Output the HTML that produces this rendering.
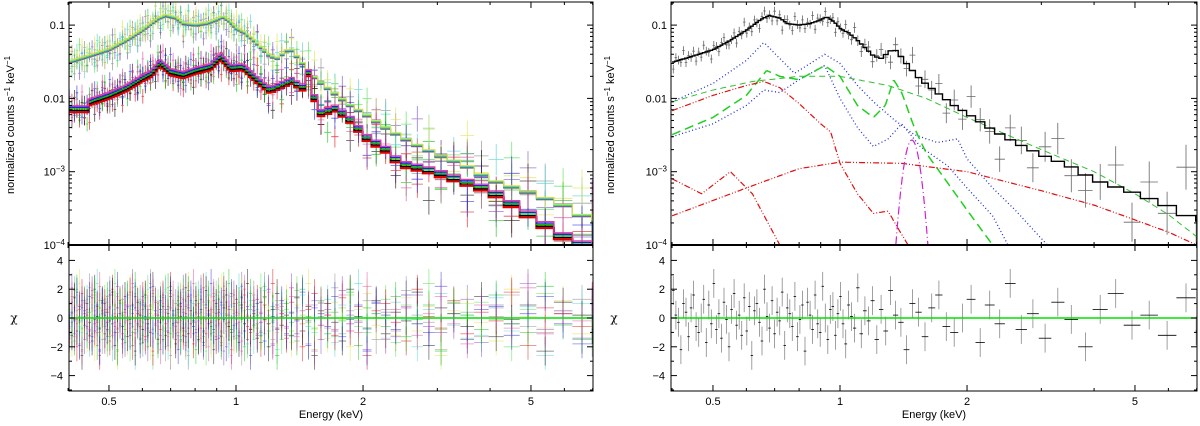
<!DOCTYPE html>
<html><head><meta charset="utf-8">
<style>
html,body{margin:0;padding:0;background:#fff;}
svg{display:block;font-family:"Liberation Sans",sans-serif;}
</style></head>
<body>
<svg id="fig" width="1200" height="426" viewBox="0 0 1200 426" xmlns="http://www.w3.org/2000/svg">
<defs>
<clipPath id="clipL"><rect x="69" y="2" width="524" height="389"/></clipPath>
<clipPath id="clipR"><rect x="671" y="2" width="526" height="389"/></clipPath>
<clipPath id="clipLT"><rect x="69" y="2" width="524" height="243"/></clipPath>
<clipPath id="clipRT"><rect x="671" y="2" width="526" height="243"/></clipPath>
</defs>
</svg>
<script>
// ---------- data ----------
const E_tot=[0.4,0.45,0.5,0.55,0.6,0.65,0.68,0.72,0.75,0.8,0.85,0.9,0.93,0.97,1.0,1.05,1.1,1.2,1.25,1.3,1.34,1.38,1.45,1.55,1.7,1.85,2.0,2.3,2.6,3.0,3.5,4.0,5.0,6.0,7.0];
const V_tot=[0.031,0.038,0.046,0.062,0.085,0.12,0.135,0.125,0.105,0.1,0.105,0.118,0.13,0.11,0.09,0.078,0.062,0.038,0.035,0.042,0.048,0.04,0.028,0.018,0.012,0.0082,0.0063,0.0037,0.0025,0.0017,0.0012,7.7e-4,5.1e-4,3.4e-4,2.1e-4];
const E_low=[0.4,0.445,0.45,0.5,0.55,0.6,0.63,0.66,0.7,0.75,0.8,0.87,0.92,0.97,1.04,1.1,1.2,1.3,1.37,1.43,1.48,1.52,1.58,1.72,1.87,2.03,2.27,2.45,2.88,3.4,4.0,5.0,6.0,7.0];
const V_low=[0.0072,0.0072,0.009,0.011,0.014,0.019,0.022,0.031,0.023,0.021,0.024,0.027,0.038,0.026,0.027,0.02,0.013,0.016,0.018,0.013,0.024,0.012,0.0063,0.0074,0.0051,0.003,0.002,0.0013,0.00105,7.7e-4,5.6e-4,2.5e-4,1.3e-4,9e-5];
const E_b1=[0.4,0.5,0.6,0.66,0.72,0.78,0.85,0.92,1.0,1.1,1.2,1.35,1.5,1.7,1.9,2.0,2.3,2.6,3.1];
const V_b1=[0.009,0.016,0.033,0.058,0.035,0.022,0.03,0.04,0.03,0.015,0.009,0.005,0.0032,0.0025,0.0028,0.0015,6e-4,3e-4,1e-4];
const E_b2=[0.4,0.5,0.6,0.66,0.72,0.8,0.92,1.0,1.1,1.2,1.3,1.4,1.55,1.8,2.0,2.3,2.5];
const V_b2=[0.003,0.0045,0.008,0.013,0.012,0.018,0.028,0.01,0.004,0.0022,0.0028,0.0045,0.0022,0.0012,6e-4,2.5e-4,1e-4];
const E_g1=[0.4,0.5,0.6,0.67,0.72,0.8,0.92,1.0,1.1,1.2,1.28,1.34,1.4,1.5,1.6,1.8,2.0,2.3];
const V_g1=[0.0032,0.0055,0.011,0.024,0.02,0.018,0.028,0.02,0.008,0.0055,0.008,0.018,0.012,0.004,0.0018,7e-4,3e-4,1e-4];
const E_g2=[0.4,0.5,0.62,0.8,1.0,1.3,1.6,2.0,3.0,4.0,5.0,6.0,7.0];
const V_g2=[0.009,0.013,0.017,0.02,0.02,0.015,0.01,0.0055,0.002,1e-3,5e-4,2.6e-4,1.3e-4];
const E_ra=[0.4,0.5,0.6,0.66,0.72,0.8,0.9,0.95,1.0,1.1,1.2,1.3,1.38,1.45];
const V_ra=[0.0068,0.011,0.015,0.017,0.014,0.0085,0.0045,0.0035,0.0013,5e-4,2.7e-4,2.9e-4,1.6e-4,1e-4];
const E_rb=[0.4,0.6,0.8,1.0,1.4,2.0,3.0,4.0,5.0,6.0,7.0];
const V_rb=[2.5e-4,6e-4,1.1e-3,1.35e-3,1.3e-3,1e-3,5.5e-4,3.5e-4,2.2e-4,1.5e-4,1e-4];
const E_rc=[0.4,0.47,0.55,0.62,0.72];
const V_rc=[8e-4,5e-4,1e-3,5e-4,1e-4];
const magCenter=[1.48], magPeak=[2.7e-3], magSigmaDex=[0.0148];
const R=[0.8,-1.2,0.3,1.5,-0.4,-1.8,0.9,0.1,-0.7,2.1,-1.1,0.5,-0.2,1.2,-1.5,0.6,-0.9,1.9,0.2,-0.3,-2.2,1.0,0.4,-1.3,0.7,1.6,-0.6,-1.0,0.0,1.3,-1.7,0.9,-0.4,2.4,-0.8,0.3,-1.4,1.1,-0.1,-2.0,0.6,1.7,-0.5,0.2,-1.2,1.4,-0.9,0.8,-2.6,0.5,1.0,-0.3,-1.6,2.0,0.1,-0.7,1.2,-1.1,0.4,-0.2,1.8,-1.9,0.7,0.3,-0.6,1.5,-1.3,-0.1,0.9,-2.3,1.1,0.2,-0.8,1.6,-0.4,-1.0,2.2,0.0,-1.5,0.6];
const xTickVals=[0.5,1,2,5], xTickLabels=["0.5","1","2","5"];
const xMinor=[0.4,0.6,0.7,0.8,0.9,3,4,6,7];
const yTickVals=[0.1,0.01,0.001,0.0001];
const chiTicks=[4,2,0,-2,-4];
const upColors=["#808080","#7040c0","#40e040","#40d0d0","#e0e040"];
const lowColors=["#e00000","#000000","#00c000","#2020e0","#e040a0"];

// ---------- helpers ----------
const NS="http://www.w3.org/2000/svg", svg=document.getElementById('fig');
function el(tag,attrs,parent){const e=document.createElementNS(NS,tag);for(const k in attrs)e.setAttribute(k,attrs[k]);(parent||svg).appendChild(e);return e;}
const lg=Math.log10;
function interp(E,V,e){if(e<=E[0])return V[0];if(e>=E[E.length-1])return V[V.length-1];
 for(let i=1;i<E.length;i++){if(e<=E[i]){const t=(lg(e)-lg(E[i-1]))/(lg(E[i])-lg(E[i-1]));return Math.pow(10,lg(V[i-1])+t*(lg(V[i])-lg(V[i-1])));}}}
const Ymain=v=>245-73.3*(lg(v)+4);
const Ychi=c=>318-14.4*c;
const bins=[];{let e=0.4;while(e<7){const s=0.006+0.05*Math.max(0,lg(e));const e2=e*Math.pow(10,s);bins.push([e,Math.min(e2,7)]);e=e2;}}
function relErr(e,base,grow){return base+grow*Math.max(0,lg(e));}

function panel(cx,tag){
 const X=e=>cx+422*lg(e);
 const g=el('g',{});  
 return {X,g};
}
function axes(p,x0,x1,tag,labelX){
 const {X,g}=p;
 const ax=el('g',{stroke:'#000','stroke-width':1,fill:'none'},g);
  
 el('rect',{x:x0,y:2,width:x1-x0,height:389},ax);
 el('line',{x1:x0,y1:245,x2:x1,y2:245,'stroke-width':2},ax);
 for(const [yy,dir] of [[2,1],[245,-1],[245,1],[391,-1]]){
  xTickVals.forEach(v=>el('line',{x1:X(v),x2:X(v),y1:yy,y2:yy+dir*6},ax));
  xMinor.forEach(v=>el('line',{x1:X(v),x2:X(v),y1:yy,y2:yy+dir*3},ax));
 }
 for(let d=-4;d<0;d++){for(let m=1;m<10;m++){const v=m*Math.pow(10,d);const y=Ymain(v);if(y<2)continue;const L=m==1?6:3;
  el('line',{x1:x0,x2:x0+L,y1:y,y2:y},ax);el('line',{x1:x1,x2:x1-L,y1:y,y2:y},ax);}}
 for(let c=-5;c<=4;c++){const y=Ychi(c);const L=c%2==0?6:3;el('line',{x1:x0,x2:x0+L,y1:y,y2:y},ax);el('line',{x1:x1,x2:x1-L,y1:y,y2:y},ax);}
 const tl=el('g',{'font-size':11,fill:'#000'},g);
  
 xTickVals.forEach((v,i)=>{const t=el('text',{x:X(v),y:405,'text-anchor':'middle'},tl);t.textContent=xTickLabels[i];});
 const ylab=[["0.1",""],["0.01",""],["10","−3"],["10","−4"]];
 yTickVals.forEach((v,i)=>{const t=el('text',{x:x0-4,y:Ymain(v)+4,'text-anchor':'end'},tl);
  if(ylab[i][1]){t.textContent=ylab[i][0];const s=el('tspan',{dy:-4,'font-size':8},t);s.textContent=ylab[i][1];}else t.textContent=ylab[i][0];});
 chiTicks.forEach(c=>{const t=el('text',{x:x0-6,y:Ychi(c)+4,'text-anchor':'end'},tl);t.textContent=c<0?'−'+(-c):String(c);});
 const xt=el('text',{x:(x0+x1)/2,y:418,'text-anchor':'middle','font-size':11},g);xt.textContent='Energy (keV)';
  
 const yt=el('text',{x:0,y:0,'text-anchor':'middle','font-size':11,transform:`translate(${labelX},125) rotate(-90)`},g);
 yt.textContent='normalized counts s';const a=el('tspan',{dy:-4,'font-size':8},yt);a.textContent='−1';const b=el('tspan',{dy:4},yt);b.textContent=' keV';const c2=el('tspan',{dy:-4,'font-size':8},yt);c2.textContent='−1';
  
 const ct=el('text',{x:labelX,y:322,'text-anchor':'middle','font-size':12,'font-family':'"DejaVu Serif",serif'},g);ct.textContent='χ';
  
}
function stepPath(X,f,scale){let d='';bins.forEach(([a,b],i)=>{const y=Ymain(f(Math.sqrt(a*b))*scale);d+=(i?'L':'M')+X(a).toFixed(1)+','+y.toFixed(1)+'L'+X(b).toFixed(1)+','+y.toFixed(1);});return d;}
function curvePath(X,f,lo,hi){let d='';const n=300;for(let i=0;i<=n;i++){const e=lo*Math.pow(hi/lo,i/n);d+=(i?'L':'M')+X(e).toFixed(1)+','+Ymain(f(e)).toFixed(1);}return d;}
function crosses(parent,X,f,scale,roff,col,base,grow,op){
 bins.forEach(([a,b],i)=>{const e=Math.sqrt(a*b);const r=R[(i+roff)%R.length];const er=relErr(e,base,grow);
  const m=f(e)*scale*Math.pow(10,r*er*0.9);const yc=Ymain(m);
  const p=el('path',{d:`M${X(a).toFixed(1)},${yc.toFixed(1)}H${X(b).toFixed(1)}M${X(e).toFixed(1)},${Ymain(m*Math.pow(10,er)).toFixed(1)}V${Ymain(m*Math.pow(10,-er)).toFixed(1)}`,stroke:col,'stroke-width':0.8,opacity:op,fill:'none'},parent);
   });
}
function chiCrosses(parent,X,roff,col,op,mid){
 bins.forEach(([a,b],i)=>{const e=Math.sqrt(a*b);const r=R[(i+roff)%R.length];const y=Ychi(r);
  const p=el('path',{d:`M${X(e).toFixed(1)},${Ychi(r+1).toFixed(1)}V${Ychi(r-1).toFixed(1)}`,stroke:col,'stroke-width':0.8,opacity:op,fill:'none'},parent);
   
  const h=el('path',{d:`M${X(a).toFixed(1)},${y.toFixed(1)}H${X(b).toFixed(1)}`,stroke:mid||col,'stroke-width':0.8,opacity:op},parent);
   });
}
const fTot=e=>interp(E_tot,V_tot,e), fLow=e=>interp(E_low,V_low,e);

// ---------- left panel ----------
const L=panel(236,'left');
{const d=el('g',{'clip-path':'url(#clipLT)'},L.g);
 upColors.forEach((c,k)=>crosses(d,L.X,fTot,1+0.04*(k-2),k*13+3,c,0.09,0.2,0.7));
 lowColors.forEach((c,k)=>crosses(d,L.X,fLow,1+0.05*(k-2),k*11+40,c,0.1,0.2,0.7));
 upColors.forEach((c,k)=>{const p=el('path',{d:stepPath(L.X,fTot,1+0.02*(k-2)),stroke:c,'stroke-width':1,fill:'none'},d);});
 lowColors.forEach((c,k)=>{const p=el('path',{d:stepPath(L.X,fLow,1+0.05*(k-2)),stroke:c,'stroke-width':k==0?2.2:1.3,fill:'none'},d);});
 const r=el('g',{'clip-path':'url(#clipL)'},L.g);
 upColors.concat(lowColors).forEach((c,k)=>chiCrosses(r,L.X,k*7+1,c,0.55));
 const z=el('line',{x1:69,x2:593,y1:Ychi(0),y2:Ychi(0),stroke:'#00e000','stroke-width':1.5},r);
}
axes(L,69,593,'left',14);

// ---------- right panel ----------
const Rp=panel(840,'right');
{const d=el('g',{'clip-path':'url(#clipRT)'},Rp.g);
 crosses(d,Rp.X,fTot,1,5,'#555',0.06,0.3,0.9);
 const comps=[[E_b1,V_b1,'#2030d0','1,2.5',1.3,'blue-dotted-component'],[E_b2,V_b2,'#2030d0','1,2.5',1.3,'blue-dotted-component-2'],
  [E_g1,V_g1,'#20d020','9,5',1.5,'green-dashed-component'],[E_g2,V_g2,'#30c030','6,4',1,'green-powerlaw-component'],
  [E_ra,V_ra,'#e01010','6,2,1,2,1,2',1.2,'red-dashdot-component'],[E_rb,V_rb,'#e01010','6,2,1,2,1,2',1.2,'red-dashdot-component-2'],[E_rc,V_rc,'#e01010','6,2,1,2,1,2',1.2,'red-dashdot-component-3']];
 comps.forEach(([E,V,c,da,w,n])=>{const p=el('path',{d:curvePath(Rp.X,e=>interp(E,V,e),E[0],E[E.length-1]),stroke:c,'stroke-dasharray':da,'stroke-width':w,fill:'none'},d);});
 const fMag=e=>Math.max(1e-6,magPeak[0]*Math.exp(-Math.pow(lg(e)-lg(magCenter[0]),2)/(2*magSigmaDex[0]*magSigmaDex[0])));
 const mg=el('path',{d:curvePath(Rp.X,fMag,magCenter[0]*0.88,magCenter[0]*1.13),stroke:'#d020d0','stroke-dasharray':'8,3,1,3','stroke-width':1.2,fill:'none'},d);
 
 const tm=el('path',{d:stepPath(Rp.X,fTot,1),stroke:'#000','stroke-width':1.4,fill:'none'},d);
 const r=el('g',{'clip-path':'url(#clipR)'},Rp.g);
 chiCrosses(r,Rp.X,17,'#888',1,'#000');
 const z=el('line',{x1:671,x2:1197,y1:Ychi(0),y2:Ychi(0),stroke:'#00e000','stroke-width':1.5},r);
}
axes(Rp,671,1197,'right',614);
</script>
</body></html>
